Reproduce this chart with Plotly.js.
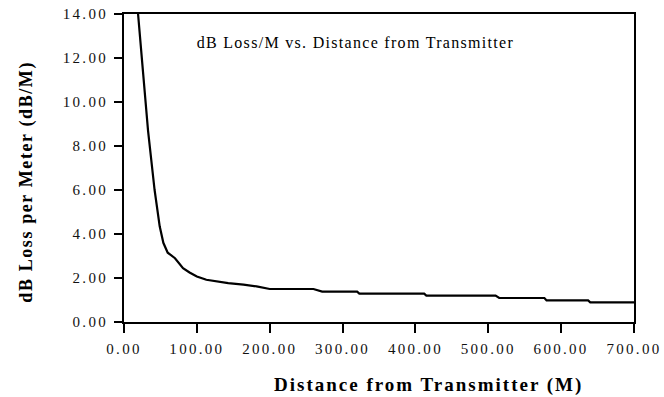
<!DOCTYPE html>
<html>
<head>
<meta charset="utf-8">
<script src="https://cdn.plot.ly/plotly-3.0.1.min.js"></script>
<style>
html,body{margin:0;padding:0;background:#fff;}
.xtick text, .ytick text { letter-spacing: 2.3px; }
.annotation[data-index="0"] text { letter-spacing: 1.3px; }
.annotation[data-index="1"] text { letter-spacing: 2px; }
.annotation[data-index="2"] text { letter-spacing: 1.6px; }
</style>
</head>
<body>
<div id="chart" style="width:664px;height:397px;"></div>
<script>
const distance = [18, 19.3, 26, 33, 42, 49, 54, 60, 70, 81, 90, 100, 113, 127, 143, 164, 182, 200, 260, 272, 320, 323, 412, 415, 510, 515, 577, 580, 637, 640, 700];
const lossPerMeter = [14.6, 14.0, 11.4, 8.7, 6.0, 4.35, 3.6, 3.15, 2.9, 2.45, 2.25, 2.07, 1.92, 1.85, 1.77, 1.70, 1.62, 1.50, 1.50, 1.38, 1.38, 1.29, 1.29, 1.20, 1.20, 1.09, 1.09, 0.98, 0.98, 0.89, 0.89];
const xTicks = [0, 100, 200, 300, 400, 500, 600, 700];
const yTicks = [0, 2, 4, 6, 8, 10, 12, 14];
const chartTitle = "dB Loss/M vs. Distance from Transmitter";
const xTitle = "Distance from Transmitter (M)";
const yTitle = "dB Loss per Meter (dB/M)";

const serif = "'Liberation Serif', 'DejaVu Serif', serif";

const trace = {
  x: distance, y: lossPerMeter, type: 'scatter', mode: 'lines',
  line: {color: '#000', width: 2.2}, hoverinfo: 'skip'
};

const layout = {
  width: 664, height: 397,
  margin: {l: 124, r: 30, t: 14, b: 75, pad: 0},
  paper_bgcolor: '#fff', plot_bgcolor: '#fff',
  showlegend: false,
  font: {family: serif, color: '#000'},
  xaxis: {
    range: [0, 700], tickvals: xTicks, ticktext: xTicks.map(v => v.toFixed(2)),
    ticks: 'outside', ticklen: 9, tickwidth: 2, tickcolor: '#000',
    showline: true, linecolor: '#000', linewidth: 2, mirror: true,
    showgrid: false, zeroline: false,
    tickfont: {family: serif, size: 15, color: '#111'},
    ticklabelstandoff: 3
  },
  yaxis: {
    range: [0, 14], tickvals: yTicks, ticktext: yTicks.map(v => v.toFixed(2)),
    ticks: 'outside', ticklen: 8, tickwidth: 2, tickcolor: '#000',
    showline: true, linecolor: '#000', linewidth: 2, mirror: true,
    showgrid: false, zeroline: false,
    tickfont: {family: serif, size: 15, color: '#111'},
    ticklabelstandoff: 3
  },
  annotations: [
    {
      text: chartTitle, xref: 'paper', yref: 'paper', x: 0.453, y: 0.909,
      xanchor: 'center', yanchor: 'middle', showarrow: false,
      font: {family: serif, size: 16, color: '#000'}
    },
    {
      text: xTitle, xref: 'paper', yref: 'paper', x: 0.598, y: -0.206,
      xanchor: 'center', yanchor: 'middle', showarrow: false,
      font: {family: serif, size: 19, weight: 'bold', color: '#000'}
    },
    {
      text: yTitle, xref: 'paper', yref: 'paper', x: (26 - 124) / 510, y: (322 - 182.5) / 308,
      xanchor: 'center', yanchor: 'middle', showarrow: false, textangle: -90,
      font: {family: serif, size: 18, weight: 'bold', color: '#000'}
    }
  ]
};

Plotly.newPlot('chart', [trace], layout, {staticPlot: true, displayModeBar: false});
</script>
</body>
</html>
